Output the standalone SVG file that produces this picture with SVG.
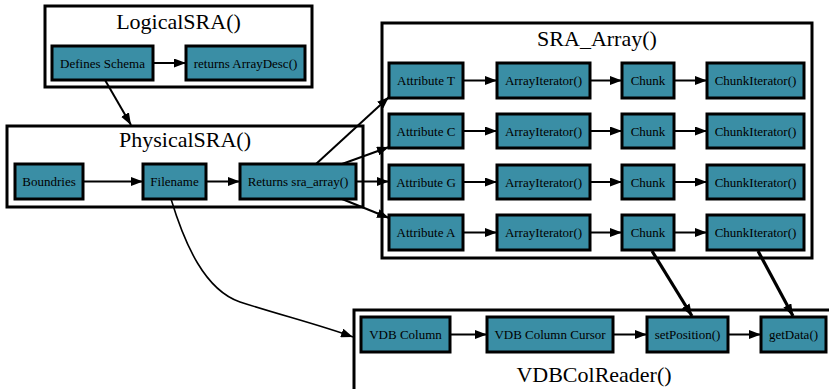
<svg xmlns="http://www.w3.org/2000/svg" width="829" height="389" viewBox="0 0 829 389">
<style>
.cl{fill:#fff;stroke:#000;stroke-width:3}
.ct{font-family:"Liberation Serif","Times New Roman",serif;font-size:22px;text-anchor:middle;fill:#000}
.n rect{fill:#3a8ea5;stroke:#000;stroke-width:3}
.n text{font-family:"Liberation Serif","Times New Roman",serif;font-size:13px;text-anchor:middle;fill:#000}
.e{fill:none;stroke:#000;stroke-width:2;marker-end:url(#ah)}
.e3{fill:none;stroke:#000;stroke-width:3.2;marker-end:url(#ah)}
</style>
<defs>
<marker id="ah" markerUnits="userSpaceOnUse" markerWidth="12" markerHeight="9" refX="12" refY="4.5" orient="auto">
<path d="M0,0 L12,4.5 L0,9 z" fill="#000"/>
</marker>
</defs>
<rect width="829" height="389" fill="#fff"/>
<g id="cluster-logical">
<rect class="cl" x="45" y="6" width="267" height="81"/>
<text class="ct" x="178.5" y="29">LogicalSRA()</text>
</g>
<g id="cluster-physical">
<rect class="cl" x="7" y="126" width="356" height="81"/>
<text class="ct" x="185" y="147">PhysicalSRA()</text>
</g>
<g id="cluster-sra">
<rect class="cl" x="382" y="23" width="430" height="235"/>
<text class="ct" x="597" y="46">SRA_Array()</text>
</g>
<g id="cluster-vdb">
<rect class="cl" x="354" y="310" width="490" height="100"/>
<text class="ct" x="594" y="382">VDBColReader()</text>
</g>

<g id="defines-schema" class="n"><rect x="52" y="46" width="101" height="34"/><text x="102.5" y="67.5">Defines Schema</text></g>
<g id="returns-arraydesc" class="n"><rect x="186" y="46" width="119" height="34"/><text x="245.5" y="67.5">returns ArrayDesc()</text></g>

<g id="boundries" class="n"><rect x="15" y="164" width="68" height="35"/><text x="49" y="186">Boundries</text></g>
<g id="filename" class="n"><rect x="143" y="164" width="63" height="35"/><text x="174.5" y="186">Filename</text></g>
<g id="returns-sra-array" class="n"><rect x="240" y="164" width="116" height="35"/><text x="298" y="186">Returns sra_array()</text></g>

<g id="attr-t" class="n"><rect x="389" y="63" width="74" height="35"/><text x="426" y="85">Attribute T</text></g>
<g id="ai-t" class="n"><rect x="497" y="63" width="93" height="35"/><text x="543.5" y="85">ArrayIterator()</text></g>
<g id="chunk-t" class="n"><rect x="622" y="63" width="52" height="35"/><text x="648" y="85">Chunk</text></g>
<g id="ci-t" class="n"><rect x="707" y="63" width="97" height="35"/><text x="755.5" y="85">ChunkIterator()</text></g>

<g id="attr-c" class="n"><rect x="389" y="114" width="74" height="34"/><text x="426" y="135.5">Attribute C</text></g>
<g id="ai-c" class="n"><rect x="497" y="114" width="93" height="34"/><text x="543.5" y="135.5">ArrayIterator()</text></g>
<g id="chunk-c" class="n"><rect x="622" y="114" width="52" height="34"/><text x="648" y="135.5">Chunk</text></g>
<g id="ci-c" class="n"><rect x="707" y="114" width="97" height="34"/><text x="755.5" y="135.5">ChunkIterator()</text></g>

<g id="attr-g" class="n"><rect x="389" y="165" width="74" height="34"/><text x="426" y="186.5">Attribute G</text></g>
<g id="ai-g" class="n"><rect x="497" y="165" width="93" height="34"/><text x="543.5" y="186.5">ArrayIterator()</text></g>
<g id="chunk-g" class="n"><rect x="622" y="165" width="52" height="34"/><text x="648" y="186.5">Chunk</text></g>
<g id="ci-g" class="n"><rect x="707" y="165" width="97" height="34"/><text x="755.5" y="186.5">ChunkIterator()</text></g>

<g id="attr-a" class="n"><rect x="389" y="215" width="74" height="35"/><text x="426" y="237">Attribute A</text></g>
<g id="ai-a" class="n"><rect x="497" y="215" width="93" height="35"/><text x="543.5" y="237">ArrayIterator()</text></g>
<g id="chunk-a" class="n"><rect x="622" y="215" width="52" height="35"/><text x="648" y="237">Chunk</text></g>
<g id="ci-a" class="n"><rect x="707" y="215" width="97" height="35"/><text x="755.5" y="237">ChunkIterator()</text></g>

<g id="vdb-column" class="n"><rect x="361" y="317" width="89" height="35"/><text x="405.5" y="339">VDB Column</text></g>
<g id="vdb-column-cursor" class="n"><rect x="487" y="317" width="126" height="35"/><text x="550" y="339">VDB Column Cursor</text></g>
<g id="setposition" class="n"><rect x="647" y="317" width="81" height="35"/><text x="687.5" y="339">setPosition()</text></g>
<g id="getdata" class="n"><rect x="761" y="317" width="65" height="35"/><text x="793.5" y="339">getData()</text></g>

<g id="connectors">
<path class="e" d="M153,63 H186"/>
<path class="e" d="M105,80 L131,125"/>
<path class="e" d="M83,181.5 H143"/>
<path class="e" d="M206,181.5 H240"/>
<path class="e" d="M316,164 L389,97"/>
<path class="e" d="M342,164 L389,147"/>
<path class="e" d="M356,181.5 H389"/>
<path class="e" d="M342,199 L389,218"/>
<path class="e" d="M463,80.5 H497"/><path class="e" d="M590,80.5 H622"/><path class="e" d="M674,80.5 H707"/>
<path class="e" d="M463,131 H497"/><path class="e" d="M590,131 H622"/><path class="e" d="M674,131 H707"/>
<path class="e" d="M463,182 H497"/><path class="e" d="M590,182 H622"/><path class="e" d="M674,182 H707"/>
<path class="e" d="M463,232.5 H497"/><path class="e" d="M590,232.5 H622"/><path class="e" d="M674,232.5 H707"/>
<path class="e" d="M171,199 C185,245 205,290 240,302 C280,315 320,325 353,337" style="stroke-width:1.6"/>
<path class="e3" d="M652,251 L692,316"/>
<path class="e3" d="M758,251 L793,316"/>
<path class="e" d="M450,334.5 H487"/>
<path class="e" d="M613,334.5 H647"/>
<path class="e" d="M728,334.5 H761"/>
</g>
</svg>
